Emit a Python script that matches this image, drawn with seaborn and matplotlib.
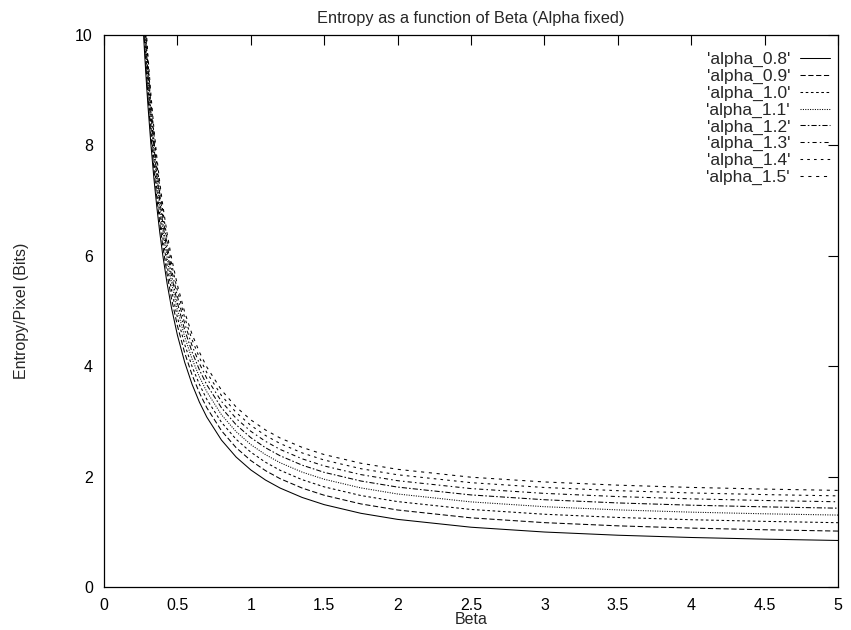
import matplotlib
matplotlib.use("Agg")
import matplotlib.pyplot as plt
import seaborn as sns
import pandas as pd

betas = [0.25, 0.26, 0.27, 0.28, 0.29, 0.30, 0.32, 0.34, 0.36, 0.38, 0.40, 0.43, 0.46,
         0.50, 0.55, 0.60, 0.65, 0.70, 0.80, 0.90, 1.00, 1.10, 1.20, 1.35, 1.50, 1.75,
         2.00, 2.50, 3.00, 3.50, 4.00, 4.50, 5.00]

alpha_0_8 = [11.034, 10.481, 9.977, 9.515, 9.090, 8.698, 8.001, 7.400, 6.878, 6.421, 6.017,
             5.496, 5.054, 4.563, 4.069, 3.672, 3.348, 3.079, 2.662, 2.354, 2.121, 1.938,
             1.792, 1.622, 1.492, 1.335, 1.225, 1.083, 0.996, 0.938, 0.897, 0.867, 0.843]
alpha_0_9 = [11.204, 10.651, 10.147, 9.685, 9.260, 8.868, 8.171, 7.570, 7.048, 6.591, 6.187,
             5.666, 5.224, 4.733, 4.239, 3.842, 3.518, 3.249, 2.832, 2.524, 2.291, 2.108,
             1.962, 1.792, 1.662, 1.505, 1.395, 1.253, 1.166, 1.108, 1.067, 1.037, 1.013]
alpha_1_0 = [11.356, 10.803, 10.299, 9.837, 9.412, 9.020, 8.323, 7.722, 7.200, 6.743, 6.339,
             5.818, 5.376, 4.885, 4.391, 3.994, 3.670, 3.401, 2.984, 2.676, 2.443, 2.260,
             2.114, 1.944, 1.814, 1.657, 1.547, 1.405, 1.318, 1.260, 1.219, 1.189, 1.165]
alpha_1_1 = [11.493, 10.941, 10.436, 9.974, 9.549, 9.158, 8.461, 7.860, 7.338, 6.880, 6.477,
             5.955, 5.514, 5.023, 4.528, 4.131, 3.807, 3.539, 3.121, 2.814, 2.580, 2.398,
             2.251, 2.081, 1.952, 1.795, 1.685, 1.542, 1.455, 1.397, 1.356, 1.326, 1.303]
alpha_1_2 = [11.619, 11.066, 10.562, 10.100, 9.675, 9.283, 8.586, 7.985, 7.463, 7.006, 6.602,
             6.081, 5.639, 5.148, 4.654, 4.257, 3.933, 3.664, 3.247, 2.939, 2.706, 2.523,
             2.377, 2.207, 2.077, 1.920, 1.810, 1.668, 1.581, 1.523, 1.482, 1.452, 1.428]
alpha_1_3 = [11.734, 11.182, 10.677, 10.215, 9.790, 9.399, 8.702, 8.101, 7.579, 7.121, 6.718,
             6.196, 5.755, 5.264, 4.769, 4.372, 4.048, 3.780, 3.362, 3.055, 2.821, 2.639,
             2.492, 2.322, 2.193, 2.036, 1.926, 1.783, 1.696, 1.638, 1.597, 1.567, 1.544]
alpha_1_4 = [11.841, 11.289, 10.784, 10.322, 9.897, 9.506, 8.808, 8.208, 7.685, 7.228, 6.825,
             6.303, 5.862, 5.371, 4.876, 4.479, 4.155, 3.886, 3.469, 3.162, 2.928, 2.745,
             2.599, 2.429, 2.300, 2.143, 2.033, 1.890, 1.803, 1.745, 1.704, 1.674, 1.651]
alpha_1_5 = [11.941, 11.388, 10.884, 10.421, 9.997, 9.605, 8.908, 8.307, 7.785, 7.328, 6.924,
             6.403, 5.961, 5.470, 4.976, 4.579, 4.255, 3.986, 3.568, 3.261, 3.028, 2.845,
             2.699, 2.529, 2.399, 2.242, 2.132, 1.989, 1.903, 1.845, 1.804, 1.774, 1.750]

labels = ["'alpha_0.8'", "'alpha_0.9'", "'alpha_1.0'", "'alpha_1.1'",
          "'alpha_1.2'", "'alpha_1.3'", "'alpha_1.4'", "'alpha_1.5'"]
series = [alpha_0_8, alpha_0_9, alpha_1_0, alpha_1_1, alpha_1_2, alpha_1_3, alpha_1_4, alpha_1_5]
x_ticks = [0, 0.5, 1, 1.5, 2, 2.5, 3, 3.5, 4, 4.5, 5]
x_tick_labels = ["0", "0.5", "1", "1.5", "2", "2.5", "3", "3.5", "4", "4.5", "5"]
y_ticks = [0, 2, 4, 6, 8, 10]
y_tick_labels = ["0", "2", "4", "6", "8", "10"]

styles = [
    "-",
    (0, (5, 2.5)),
    (0, (2.5, 2.5)),
    (0, (1, 1.3)),
    (0, (5, 2, 1.5, 2)),
    (0, (4, 3, 1.5, 3)),
    (0, (2.5, 4)),
    (0, (3, 4.5)),
]

sns.set_style("white")
plt.rcParams["font.family"] = ["Liberation Sans", "DejaVu Sans"]

fig = plt.figure(figsize=(8.51, 6.3), dpi=100)
ax = fig.add_axes([104 / 851, 1 - 587 / 630, (838 - 104) / 851, (587 - 35) / 630])

frames = []
for lab, vals in zip(labels, series):
    frames.append(pd.DataFrame({"Beta": betas, "Entropy": vals, "series": lab}))
df = pd.concat(frames, ignore_index=True)

for lab, ls in zip(labels, styles):
    sub = df[df["series"] == lab]
    sns.lineplot(data=sub, x="Beta", y="Entropy", ax=ax, color="black",
                 linewidth=0.75, linestyle=ls, label=lab, estimator=None, sort=True)

ax.set_xlim(0, 5)
ax.set_ylim(0, 10)
ax.set_xticks(x_ticks)
ax.set_xticklabels(x_tick_labels)
ax.set_yticks(y_ticks)
ax.set_yticklabels(y_tick_labels)
ax.tick_params(direction="in", length=7, width=0.8, top=True, right=True,
               labelsize=11.5, colors="black", pad=8)
for s in ax.spines.values():
    s.set_color("black")
    s.set_linewidth(0.9)

ax.set_xlabel("Beta", fontsize=11.5, labelpad=-1)
ax.set_ylabel("Entropy/Pixel (Bits)", fontsize=11.5, labelpad=33)
ax.set_title("Entropy as a function of Beta (Alpha fixed)", fontsize=11.8, pad=9)

leg = ax.legend(loc="upper right", bbox_to_anchor=(0.9986, 0.982), frameon=False,
                markerfirst=False, fontsize=12.5, handlelength=1.75, handletextpad=0.55,
                labelspacing=0.09, borderaxespad=0.0, alignment="right")
for t in leg.get_texts():
    t.set_ha("right")

fig.savefig("out.png", dpi=100)
